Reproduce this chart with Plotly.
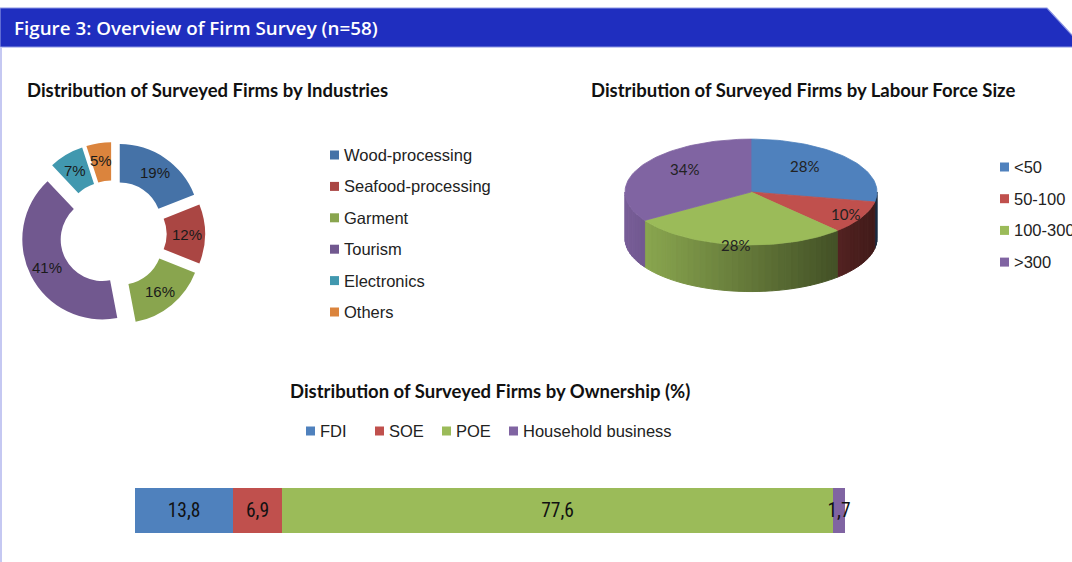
import math
import plotly.graph_objects as go

W, H = 1072, 562

# ---------------- data ----------------
industries = ["Wood-processing", "Seafood-processing", "Garment", "Tourism", "Electronics", "Others"]
industry_pct = [19, 12, 16, 41, 7, 5]
industry_colors = ["#4572A7", "#AA4643", "#89A54E", "#71588F", "#4198AF", "#DB843D"]

labour_sizes = ["<50", "50-100", "100-300", ">300"]
labour_pct = [28, 10, 28, 34]
labour_colors = ["#4F81BD", "#C0504D", "#9BBB59", "#8064A2"]

ownership = ["FDI", "SOE", "POE", "Household business"]
ownership_pct = [13.8, 6.9, 77.6, 1.7]
ownership_colors = ["#4F81BD", "#C0504D", "#9BBB59", "#8064A2"]

title_text = "Figure 3: Overview of Firm Survey (n=58)"
sub1 = "Distribution of Surveyed Firms by Industries"
sub2 = "Distribution of Surveyed Firms by Labour Force Size"
sub3 = "Distribution of Surveyed Firms by Ownership (%)"


def px(x):
    return x / W


def py(y):
    return 1 - y / H


fig = go.Figure()

# ---------------- donut (industries) ----------------
DONUT_C = (113, 234)     # centre in pixels
DONUT_R = 80             # outer radius in pixels
PULL = 0.15
fig.add_trace(go.Pie(
    labels=industries, values=industry_pct,
    textinfo="none",
    marker=dict(colors=industry_colors, line=dict(width=0)),
    hole=0.52, pull=PULL, sort=False, direction="clockwise", rotation=0,
    domain=dict(x=[px(DONUT_C[0] - DONUT_R * (1 + PULL)), px(DONUT_C[0] + DONUT_R * (1 + PULL))],
                y=[py(DONUT_C[1] + DONUT_R * (1 + PULL)), py(DONUT_C[1] - DONUT_R * (1 + PULL))]),
    showlegend=False, hoverinfo="label+percent",
))
# donut labels at slice mid-angles
acc = 0
tot = sum(industry_pct)
for v in industry_pct:
    mid = (acc + v / 2) / tot * 2 * math.pi
    acc += v
    d = 74
    x = DONUT_C[0] + d * math.sin(mid)
    y = DONUT_C[1] - d * math.cos(mid)
    fig.add_annotation(x=px(x), y=py(y), xref="paper", yref="paper", text=f"{v}%",
                       showarrow=False, xanchor="center", yanchor="middle",
                       font=dict(family="Liberation Sans, Arial", size=15, color="#1a1a1a"))

# ---------------- 3D pie (labour force) ----------------
A, B, DEPTH = 1.0, 0.42, 0.37


def shade(hexcol, f):
    r, g, b = int(hexcol[1:3], 16), int(hexcol[3:5], 16), int(hexcol[5:7], 16)
    return "rgb(%d,%d,%d)" % (min(255, r * f), min(255, g * f), min(255, b * f))


total = sum(labour_pct)
bounds = []
acc = 0
for v in labour_pct:
    s = 90 - acc / total * 360
    acc += v
    e = 90 - acc / total * 360
    bounds.append((s, e))  # math degrees, decreasing (clockwise)

# side walls (visible front half: theta in [-180, 0])
for (s, e), col in zip(bounds, labour_colors):
    lo, hi = e, s
    segs = []
    for off in (0, -360, 360):
        a0, a1 = max(lo + off, -180), min(hi + off, 0)
        if a1 > a0:
            segs.append((a0, a1))
    for a0, a1 in segs:
        n = max(2, int((a1 - a0) / 3))
        for k in range(n):
            t0 = math.radians(a0 + (a1 - a0) * k / n)
            t1 = math.radians(a0 + (a1 - a0) * (k + 1) / n)
            xm = math.cos((t0 + t1) / 2)
            f = 0.64 - 0.3 * xm
            c = shade(col, f)
            xs = [A * math.cos(t0), A * math.cos(t1), A * math.cos(t1), A * math.cos(t0), A * math.cos(t0)]
            ys = [B * math.sin(t0), B * math.sin(t1), B * math.sin(t1) - DEPTH, B * math.sin(t0) - DEPTH, B * math.sin(t0)]
            fig.add_trace(go.Scatter(x=xs, y=ys, mode="lines", fill="toself", fillcolor=c,
                                     line=dict(color=c, width=1), xaxis="x2", yaxis="y2",
                                     showlegend=False, hoverinfo="skip"))

# top faces
for (s, e), col, name, v in zip(bounds, labour_colors, labour_sizes, labour_pct):
    n = max(4, int((s - e) / 2))
    xs, ys = [0.0], [0.0]
    for k in range(n + 1):
        t = math.radians(s + (e - s) * k / n)
        xs.append(A * math.cos(t))
        ys.append(B * math.sin(t))
    xs.append(0.0)
    ys.append(0.0)
    fig.add_trace(go.Scatter(x=xs, y=ys, mode="lines", fill="toself", fillcolor=col,
                             line=dict(color=col, width=0.8), xaxis="x2", yaxis="y2",
                             showlegend=False, name=name, hoverinfo="name"))

label_r = [0.55, 0.86, 1.0, 0.6]
for (s, e), v, r in zip(bounds, labour_pct, label_r):
    t = math.radians((s + e) / 2)
    fig.add_annotation(x=A * r * math.cos(t), y=B * r * math.sin(t) + (0.06 if math.sin(t) > 0.3 else 0),
                       xref="x2", yref="y2", text=f"{v}%", showarrow=False,
                       font=dict(family="Lato, Liberation Sans", size=15, color="#222"))

# ---------------- stacked bar (ownership) ----------------
for name, v, col in zip(ownership, ownership_pct, ownership_colors):
    fig.add_trace(go.Bar(
        x=[v], y=[""], orientation="h", name=name, marker=dict(color=col, line=dict(width=0)),
        text=[v], texttemplate="%{x:.1f}", textposition="inside", insidetextanchor="middle",
        constraintext="none", textangle=0, cliponaxis=False,
        textfont=dict(family="Liberation Sans Narrow, Roboto Condensed, Liberation Sans", size=19.5, color="#111"),
        xaxis="x3", yaxis="y3", showlegend=False,
    ))

# ---------------- manual legends ----------------
def legend_item(x, y, color, label, size=16.5):
    fig.add_shape(type="rect", xref="paper", yref="paper",
                  x0=px(x), x1=px(x + 9), y0=py(y + 4.5), y1=py(y - 4.5),
                  fillcolor=color, line=dict(width=0))
    fig.add_annotation(x=px(x + 12), y=py(y), xref="paper", yref="paper", text=label,
                       showarrow=False, xanchor="left", yanchor="middle",
                       font=dict(family="Liberation Sans, Arial", size=size, color="#222"))


for i, (name, col) in enumerate(zip(industries, industry_colors)):
    legend_item(330, 155 + i * 31.4, col, name)
for i, (name, col) in enumerate(zip(labour_sizes, labour_colors)):
    legend_item(1000, 167 + i * 31.7, col, name)
bar_leg_x = [306, 375, 442, 509]
for x, name, col in zip(bar_leg_x, ownership, ownership_colors):
    legend_item(x, 431, col, name)

# ---------------- header & titles ----------------
fig.add_shape(type="path", xref="paper", yref="paper",
              path=f"M 0 {py(8)} L {px(1047)} {py(8)} L {px(1083)} {py(47)} L 0 {py(47)} Z",
              fillcolor="#1F2EBF", line=dict(color="#8C95E3", width=1.2))
fig.add_shape(type="line", xref="paper", yref="paper", x0=px(1), x1=px(1), y0=py(47), y1=0,
              line=dict(color="#C5C8F2", width=2))
fig.add_annotation(x=px(12), y=py(28), xref="paper", yref="paper", text=title_text,
                   showarrow=False, xanchor="left", yanchor="middle",
                   font=dict(family="Open Sans", size=18.8, weight=600, color="white"))
for txt, x, y in [(sub1, 25, 90), (sub2, 589, 90), (sub3, 288, 391)]:
    fig.add_annotation(x=px(x), y=py(y), xref="paper", yref="paper", text=f"<b>{txt}</b>",
                       showarrow=False, xanchor="left", yanchor="middle",
                       font=dict(family="Lato", size=18.5, color="#111"))

# ---------------- layout ----------------
fig.update_layout(
    width=W, height=H, margin=dict(l=0, r=0, t=0, b=0),
    paper_bgcolor="white", plot_bgcolor="rgba(0,0,0,0)",
    separators=", ", barmode="stack", showlegend=False,
    xaxis2=dict(domain=[px(612.4), px(889.6)], range=[-1.1, 1.1], visible=False, fixedrange=True),
    yaxis2=dict(domain=[py(300), py(125)], range=[-0.857, 0.532], visible=False, fixedrange=True),
    xaxis3=dict(domain=[px(135), px(845)], range=[0, 100], visible=False, anchor="y3"),
    yaxis3=dict(domain=[py(533), py(488)], visible=False, anchor="x3"),
    xaxis=dict(visible=False), yaxis=dict(visible=False),
    bargap=0,
)

fig.write_html("out.html", config={"displayModeBar": False},
               post_script="document.body.style.margin='0px';")
